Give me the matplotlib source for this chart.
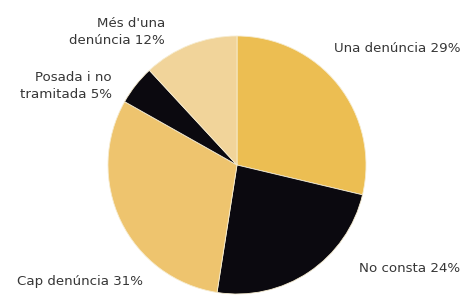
import matplotlib
matplotlib.use("Agg")
import matplotlib.pyplot as plt

# slices, clockwise from the top
labels = ["Una denúncia 29%", "No consta 24%", "Cap denúncia 31%",
          "Posada i no\ntramitada 5%", "Més d'una\ndenúncia 12%"]
values = [29, 24, 31, 5, 12]
colors = ["#ecbe52", "#0b090f", "#eec46e", "#0b090f", "#f1d49a"]

fig = plt.figure(figsize=(4.62, 2.99), dpi=100)
ax = fig.add_axes([0, 0, 1, 1])

ax.pie(values, colors=colors, startangle=90, counterclock=False,
       center=(237, -165), radius=129, frame=True,
       wedgeprops=dict(linewidth=0.6, edgecolor="#f6ecd0"))
ax.set_xlim(0, 462)
ax.set_ylim(-299, 0)
ax.set_aspect("equal")
ax.axis("off")

txt = dict(fontsize=9.6, color="#363636", family="DejaVu Sans")
# label positions (pixels)
pos = [(460, -49, "right"),
       (460, -268, "right"),
       (17, -281, "left"),
       (112, -86, "right"),
       (165, -32, "right")]
for lab, (x, y, ha) in zip(labels, pos):
    ax.text(x, y, lab, ha=ha, va="center", multialignment="right",
            linespacing=1.45, **txt)

fig.savefig("out.png", dpi=100)
